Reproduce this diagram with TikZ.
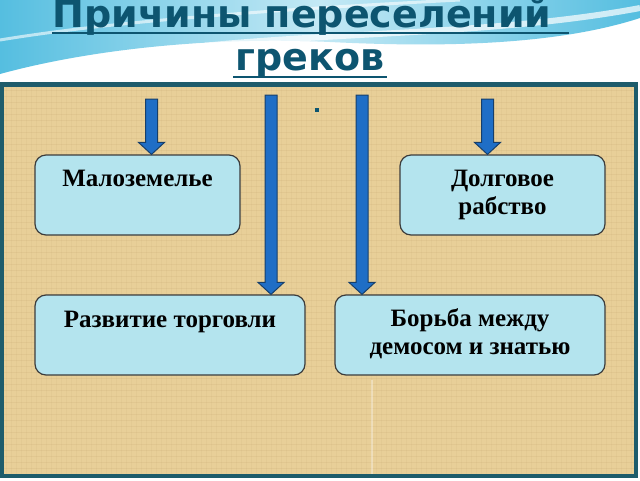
\documentclass[tikz,border=0pt]{standalone}
\usepackage{fontspec}
\setmainfont{Liberation Serif}
\newfontfamily\titlefont{DejaVu Sans}
\usetikzlibrary{calc}
\definecolor{titlecol}{HTML}{0D5570}
\definecolor{panelborder}{HTML}{1E5C6B}
\definecolor{parch}{HTML}{E8CF98}
\definecolor{parchdark}{HTML}{C4A670}
\definecolor{boxfill}{HTML}{B4E4EE}
\definecolor{boxline}{HTML}{3C3C3C}
\definecolor{arrowfill}{HTML}{1F6EC6}
\definecolor{arrowline}{HTML}{173F6A}
\definecolor{skyA}{HTML}{55BEE0}
\definecolor{skyB}{HTML}{C4E9F5}
\newcommand\blkarrow[2]{\path[blockarrow] let \p1=(#1), \p2=(#2) in
  (\x1-6pt,\y1) -- (\x1+6pt,\y1) -- (\x1+6pt,\y2+12pt) -- (\x1+13pt,\y2+12pt)
  -- (\x1,\y2) -- (\x1-13pt,\y2+12pt) -- (\x1-6pt,\y2+12pt) -- cycle;}
\begin{document}
\begin{tikzpicture}[x=1pt,y=-1pt,
  causebox/.style={draw=boxline,line width=1.2pt,fill=boxfill,rounded corners=11pt,inner sep=0pt},
  boxtext/.style={anchor=base,font=\bfseries\fontsize{25}{27}\selectfont,align=center,inner sep=0pt},
  blockarrow/.style={fill=arrowfill,draw=arrowline,line width=1pt,line join=miter},
  titletext/.style={text=titlecol,font=\titlefont\bfseries\fontsize{38}{40}\selectfont,inner sep=0pt,anchor=base},
  uline/.style={draw=titlecol,line width=2.6pt}]
\useasboundingbox (0,0) rectangle (640,480);
\clip (0,0) rectangle (640,480);
\fill[white] (0,0) rectangle (640,480);
% sky swoosh
\shade[left color=skyA,right color=skyA,middle color=skyB]
  (0,0) -- (0,74) .. controls (80,52) and (200,36) .. (330,42)
  .. controls (450,48) and (560,44) .. (640,18) -- (640,0) -- cycle;
\draw[white,line width=6pt,opacity=0.7] (120,58) .. controls (260,30) and (470,40) .. (640,8);
\draw[white,line width=3pt,opacity=0.6] (0,40) .. controls (120,20) and (300,8) .. (460,0);
% title
\node[titletext] (t1) at (302,27) {Причины переселений};
\node[titletext] (t2) at (310,70) {греков};
\draw[uline] ($(t1.base west)+(0,6)$) -- ($(t1.base east)+(17,6)$);
\draw[uline] ($(t2.base west)+(-2,7)$) -- ($(t2.base east)+(2,7)$);
% panel
\fill[parch] (2,84.5) rectangle (636,476);
\foreach \yy in {90,96,...,474} \draw[parchdark,opacity=0.18,line width=0.7pt] (4,\yy) -- (634,\yy);
\foreach \xx in {6,11,...,634} \draw[parchdark,opacity=0.12,line width=0.6pt] (\xx,87) -- (\xx,474);
\draw[white,opacity=0.35,line width=1.5pt] (372,380) -- (372,474);
\draw[panelborder,line width=4.5pt] (2,84.5) rectangle (636,476);
\fill[titlecol] (315,108) rectangle (319,112);
% boxes
\node[causebox,minimum width=205pt,minimum height=80pt] (m) at (137.5,195) {};
\node[causebox,minimum width=205pt,minimum height=80pt] (d) at (502.5,195) {};
\node[causebox,minimum width=270pt,minimum height=80pt] (r) at (170,335) {};
\node[causebox,minimum width=270pt,minimum height=80pt] (b) at (470,335) {};
\node[boxtext] (mt) at ([yshift=-32pt]m.north) {Малоземелье};
\node[boxtext] (dt) at ([yshift=-60pt]d.north) {Долговое\\[1pt]рабство};
\node[boxtext] (rt) at ([yshift=-33pt]r.north) {Развитие торговли};
\node[boxtext] (bt) at ([yshift=-60pt]b.north) {Борьба между\\[1pt]демосом и знатью};
% arrows
\coordinate (a1) at (151.5,99);
\coordinate (a2) at (271,95);
\coordinate (a3) at (362,95);
\coordinate (a4) at (487.5,99);
\blkarrow{a1}{a1 |- m.north}
\blkarrow{a2}{a2 |- r.north}
\blkarrow{a3}{a3 |- b.north}
\blkarrow{a4}{a4 |- d.north}
\end{tikzpicture}
\end{document}
